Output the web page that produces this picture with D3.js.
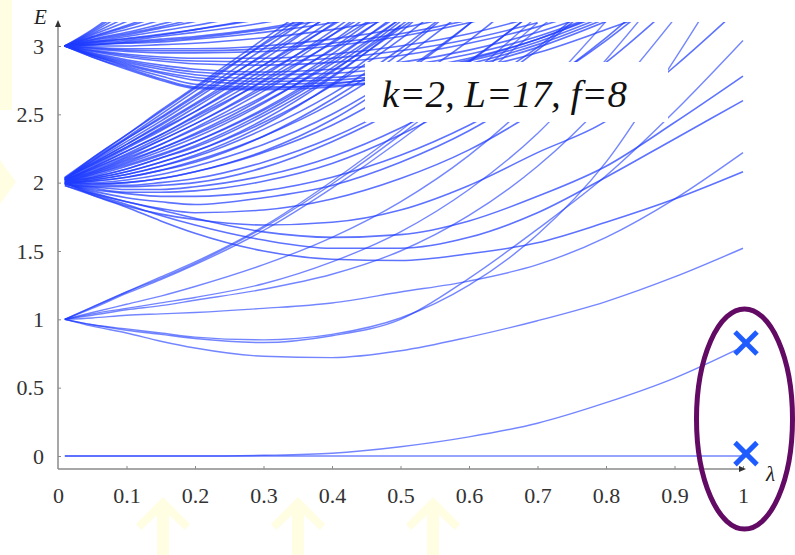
<!DOCTYPE html>
<html><head><meta charset="utf-8">
<script src="https://cdn.jsdelivr.net/npm/d3@7"></script>
<style>body{margin:0;background:#fff;overflow:hidden}</style>
</head><body>
<svg id="c" width="795" height="555"></svg>
<script>
// ---- data ----
const lambdaGrid = [0.01,0.05,0.1,0.15,0.2,0.3,0.4,0.5,0.6,0.7,0.8,0.9,1.0];
const xTicks = [0,0.1,0.2,0.3,0.4,0.5,0.6,0.7,0.8,0.9,1];
const xTickLabels = ["0","0.1","0.2","0.3","0.4","0.5","0.6","0.7","0.8","0.9","1"];
const yTicks = [0,0.5,1,1.5,2,2.5,3];
const yTickLabels = ["0","0.5","1","1.5","2","2.5","3"];
// energy levels E(lambda) read on lambdaGrid, grouped by their value at lambda=0
const levelsE0 = [
  [0,0,0,0,0,0,0,0,0,0,0,0,0],
  [0,0,0,0,0,0.005,0.02,0.068,0.14,0.24,0.39,0.57,0.80]
];
const levelsE1 = [
  [1,0.95,0.90,0.84,0.79,0.73,0.72,0.77,0.87,0.99,1.13,1.31,1.52],
  [1,0.96,0.92,0.89,0.86,0.83,0.88,1.00,1.30,1.66,2.05,2.52,3.04],
  [1,0.96,0.93,0.90,0.87,0.85,0.89,1.01,1.25,1.62,2.15,2.90,3.70],
  [1,1.01,1.03,1.04,1.05,1.08,1.12,1.20,1.28,1.40,1.60,1.88,2.22],
  [1,1.03,1.07,1.10,1.14,1.22,1.33,1.50,1.76,2.12,2.60,3.20],
  [1,1.04,1.08,1.12,1.16,1.26,1.42,1.64,1.95,2.36,2.90,3.50],
  [1,1.05,1.11,1.17,1.24,1.40,1.60,1.86,2.20,2.64,3.18],
  [1,1.09,1.20,1.31,1.42,1.68,2.01,2.38,2.78,3.22],
  [1,1.09,1.20,1.30,1.41,1.67,1.99,2.35,2.74,3.17],
  [1,1.08,1.19,1.29,1.40,1.65,1.96,2.31,2.70,3.12,3.50]
];
const levelsE2 = [
  [2.03,2.18,2.35,2.53,2.70,3.05,3.40],
  [2.03,2.17,2.33,2.50,2.67,3.02,3.37],
  [2.03,2.16,2.32,2.48,2.64,2.98,3.32],
  [2.03,2.15,2.30,2.45,2.61,2.94,3.29],
  [2.03,2.14,2.28,2.43,2.58,2.90,3.24],
  [2.03,2.13,2.26,2.40,2.55,2.86,3.19],
  [2.02,2.12,2.25,2.38,2.52,2.83,3.16,3.53],
  [2.02,2.11,2.23,2.35,2.49,2.78,3.11,3.48],
  [2.02,2.10,2.21,2.33,2.46,2.75,3.08,3.45],
  [2.02,2.09,2.19,2.31,2.43,2.71,3.03,3.40],
  [2.02,2.08,2.17,2.28,2.40,2.67,2.98,3.35],
  [2.01,2.07,2.16,2.25,2.36,2.62,2.94,3.30],
  [2.01,2.06,2.14,2.23,2.33,2.58,2.89,3.25],
  [2.01,2.05,2.12,2.20,2.30,2.54,2.84,3.20],
  [2.01,2.04,2.10,2.18,2.26,2.49,2.78,3.13,3.47],
  [2.01,2.03,2.08,2.15,2.23,2.44,2.71,3.05,3.45],
  [2.00,2.02,2.06,2.12,2.19,2.39,2.65,2.98,3.37],
  [2.00,2.01,2.04,2.09,2.16,2.34,2.58,2.90,3.28],
  [2.00,2.00,2.02,2.06,2.12,2.28,2.50,2.80,3.16,3.58],
  [2.00,1.99,2.00,2.03,2.08,2.22,2.42,2.70,3.04,3.45],
  [2.00,1.98,1.98,2.00,2.03,2.15,2.33,2.58,2.89,3.27],
  [1.99,1.97,1.95,1.95,1.97,2.05,2.19,2.40,2.67,2.99,3.41],
  [1.99,1.95,1.92,1.90,1.90,1.94,2.04,2.20,2.42,2.70,3.04,3.44],
  [1.99,1.94,1.89,1.86,1.84,1.89,1.98,2.15,2.38,2.69,3.06,3.50],
  [1.98,1.92,1.86,1.81,1.78,1.80,1.88,2.03,2.24,2.53,2.88,3.31],
  [1.98,1.91,1.83,1.77,1.73,1.69,1.71,1.80,1.98,2.22,2.45,2.85,3.30],
  [2.00,1.93,1.86,1.80,1.74,1.64,1.60,1.62,1.72,1.90,2.12,2.44,2.78],
  [2.00,1.92,1.84,1.76,1.69,1.58,1.52,1.52,1.60,1.78,2.04,2.32,2.60],
  [2.00,1.91,1.82,1.72,1.63,1.50,1.44,1.43,1.48,1.56,1.71,1.88,2.08],
  [2.04,2.18,2.35,2.52,2.69,3.01,3.31],
  [2.03,2.16,2.32,2.47,2.63,2.93,3.23],
  [2.03,2.14,2.28,2.42,2.57,2.86,3.15,3.45],
  [2.03,2.13,2.26,2.39,2.52,2.80,3.08,3.38],
  [2.02,2.11,2.23,2.35,2.48,2.74,3.02,3.33],
  [2.02,2.10,2.20,2.31,2.43,2.69,2.97,3.28],
  [2.02,2.08,2.18,2.28,2.39,2.63,2.91,3.23],
  [2.01,2.07,2.15,2.25,2.35,2.59,2.87,3.20],
  [2.01,2.06,2.13,2.21,2.30,2.53,2.82,3.15,3.54],
  [2.01,2.04,2.10,2.18,2.27,2.51,2.81,3.18],
  [2.00,2.03,2.08,2.15,2.23,2.46,2.77,3.15],
  [2.00,2.02,2.06,2.12,2.20,2.42,2.72,3.10,3.56],
  [2.00,2.01,2.04,2.09,2.15,2.34,2.61,2.95,3.37],
  [2.00,1.99,2.00,2.03,2.08,2.23,2.46,2.78,3.16,3.63],
  [1.99,1.97,1.97,1.98,2.00,2.11,2.30,2.55,2.88,3.27],
  [1.99,1.96,1.93,1.93,1.94,2.01,2.14,2.35,2.62,2.97,3.38]
];
const levelsE3 = [
  [3,3.12,3.30],
  [3,3.11,3.28],
  [3,3.10,3.25],
  [3,3.09,3.21],
  [3,3.08,3.18,3.30],
  [3,3.07,3.15,3.24],
  [3,3.065,3.14,3.22],
  [3,3.06,3.12,3.19,3.27],
  [3,3.05,3.10,3.16,3.22],
  [3,3.045,3.09,3.14,3.20],
  [3,3.04,3.08,3.13,3.18,3.30],
  [3,3.03,3.07,3.11,3.15,3.25],
  [3,3.03,3.05,3.08,3.12,3.21,3.32],
  [3,3.025,3.055,3.085,3.12,3.20,3.30],
  [3,3.02,3.04,3.07,3.10,3.17,3.27],
  [3,3.01,3.03,3.05,3.07,3.13,3.22,3.33],
  [3,3.01,3.025,3.04,3.06,3.12,3.20,3.30],
  [3,3.01,3.02,3.03,3.05,3.10,3.17,3.27],
  [3,3.00,3.00,3.01,3.02,3.06,3.12,3.21,3.32],
  [3,2.99,2.98,2.98,2.98,3.00,3.05,3.13,3.24],
  [3,2.985,2.97,2.965,2.965,2.98,3.02,3.09,3.19],
  [3,2.98,2.96,2.95,2.95,2.96,3.00,3.07,3.17,3.30],
  [3,2.97,2.94,2.92,2.91,2.91,2.94,3.00,3.09,3.22],
  [3,2.965,2.93,2.905,2.89,2.885,2.91,2.965,3.05,3.17],
  [3,2.96,2.92,2.89,2.87,2.86,2.88,2.93,3.02,3.14,3.30],
  [3,2.95,2.90,2.86,2.83,2.81,2.83,2.88,2.97,3.10,3.27],
  [3,2.945,2.89,2.845,2.81,2.79,2.80,2.85,2.94,3.07,3.25],
  [3,2.94,2.88,2.83,2.79,2.76,2.77,2.82,2.91,3.05,3.24],
  [3,2.935,2.87,2.81,2.77,2.74,2.75,2.80,2.89,3.03,3.22],
  [3,2.93,2.86,2.80,2.75,2.72,2.73,2.78,2.87,3.01,3.20],
  [3,2.93,2.85,2.78,2.72,2.70,2.71,2.76,2.85,2.99,3.18],
  [3,2.92,2.84,2.76,2.70,2.69,2.72,2.79,2.90,3.05,3.25],
  [3,2.92,2.83,2.75,2.69,2.68,2.70,2.75,2.83,2.95,3.12,3.30]
];
const crossingLambda = [1, 1];
const crossingE = [0.82, 0.01];
const paramLabel = "k=2, L=17, f=8";

// ---- drawing ----
const svg = d3.select("#c");
const x = d3.scaleLinear().domain([0,1]).range([58,743]);
const y = d3.scaleLinear().domain([0,3]).range([456,46]);
const serif = "'Liberation Serif','DejaVu Serif',serif";

// faint background decorations (slide artefacts)
const bg = svg.append("g").attr("fill","#fffde2").attr("stroke","none");
bg.append("rect").attr("x",0).attr("y",0).attr("width",12).attr("height",110);
bg.append("path").attr("d","M0,160 L16,182 L0,204 Z");
[163,298,433].forEach(cx=>{
  bg.append("path").attr("d",`M${cx-6},555 L${cx-6},515 L${cx-22},530 L${cx-27},524 L${cx},497 L${cx+27},524 L${cx+22},530 L${cx+6},515 L${cx+6},555 Z`);
});

svg.append("defs").append("clipPath").attr("id","plotclip")
  .append("rect").attr("x",58).attr("y",22).attr("width",700).attr("height",460);

const line = d3.line().x(d=>x(d[0])).y(d=>y(d[1])).curve(d3.curveMonotoneX);
const families = [levelsE0, levelsE1, levelsE2, levelsE3];
const plot = svg.append("g").attr("clip-path","url(#plotclip)");
families.forEach((fam, fi) => {
  plot.append("g").selectAll("path").data(fam).join("path")
    .attr("d", vals => line(vals.map((v,i)=>[lambdaGrid[i], v])))
    .attr("fill","none").attr("stroke","#1e3cff")
    .attr("stroke-opacity", fi >= 2 ? 0.72 : 0.62)
    .attr("stroke-width", fi >= 2 ? 1.6 : 1.4);
});

// axes
const axisColor = "#8a8a8a";
const xAxisY = 469;
const gx = svg.append("g").attr("transform",`translate(0,${xAxisY})`)
  .call(d3.axisBottom(x).tickValues(xTicks).tickFormat((d,i)=>xTickLabels[i])
        .tickSizeInner(-3).tickSizeOuter(0).tickPadding(18));
const gy = svg.append("g").attr("transform",`translate(58,0)`)
  .call(d3.axisLeft(y).tickValues(yTicks).tickFormat((d,i)=>yTickLabels[i])
        .tickSizeInner(-3).tickSizeOuter(0).tickPadding(14));
[gx,gy].forEach(g=>{
  g.select(".domain").remove();
  g.selectAll(".tick line").attr("stroke",axisColor);
  g.selectAll(".tick text").attr("font-family",serif).attr("font-size",22).attr("fill","#333");
});
gx.selectAll(".tick").filter(d=>d===0).select("line").remove();
svg.append("line").attr("x1",58).attr("x2",741).attr("y1",xAxisY).attr("y2",xAxisY)
  .attr("stroke",axisColor).attr("stroke-width",1.5);
svg.append("line").attr("x1",58).attr("x2",58).attr("y1",xAxisY).attr("y2",26)
  .attr("stroke",axisColor).attr("stroke-width",1.5);
svg.append("path").attr("d",`M746,${xAxisY} L739,${xAxisY-3} L739,${xAxisY+3} Z`).attr("fill","#333");
svg.append("path").attr("d",`M58,20 L55,27 L61,27 Z`).attr("fill","#333");
svg.append("text").attr("x",34).attr("y",24).attr("font-family",serif).attr("font-style","italic")
  .attr("font-size",21).attr("fill","#222").text("E");
svg.append("text").attr("x",766).attr("y",481).attr("font-family",serif).attr("font-style","italic")
  .attr("font-size",21).attr("fill","#222").text("λ");

// label box
svg.append("rect").attr("x",365).attr("y",62).attr("width",303).attr("height",60).attr("fill","#fff");
svg.append("text").attr("x",382).attr("y",107).attr("font-family",serif).attr("font-style","italic")
  .attr("font-size",38).attr("fill","#111").attr("textLength",245).attr("lengthAdjust","spacingAndGlyphs")
  .text(paramLabel);

// highlight ellipse and crossing markers
svg.append("ellipse").attr("cx",744.5).attr("cy",419).attr("rx",48).attr("ry",110)
  .attr("fill","none").attr("stroke","#620a64").attr("stroke-width",5);
const mk = svg.append("g").attr("stroke","#1f5cff").attr("stroke-width",5).attr("stroke-linecap","butt");
crossingE.forEach((e,i)=>{
  const cx = x(crossingLambda[i])+3, cy = y(e)-1;
  mk.append("line").attr("x1",cx-11).attr("y1",cy-11).attr("x2",cx+11).attr("y2",cy+11);
  mk.append("line").attr("x1",cx-11).attr("y1",cy+11).attr("x2",cx+11).attr("y2",cy-11);
});
</script>
</body></html>
